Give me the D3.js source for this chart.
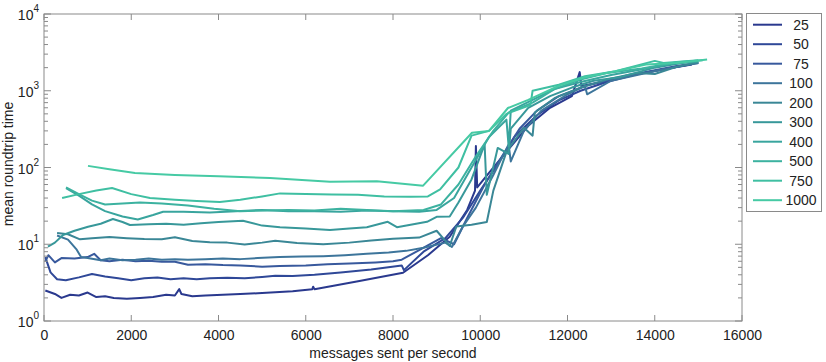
<!DOCTYPE html>
<html><head><meta charset="utf-8">
<script src="https://cdn.jsdelivr.net/npm/d3@7/dist/d3.min.js"></script>
<style>body{margin:0;background:#fff}svg text{font-family:"Liberation Sans",Arial,Helvetica,sans-serif;fill:#222}</style>
</head><body><svg id="c" width="826" height="362"></svg>
<script>
const seriesNames = ["25","50","75","100","200","300","400","500","750","1000"];
const xTicks = [0,2000,4000,6000,8000,10000,12000,14000,16000];
const yTickExp = [0,1,2,3,4];

const s25 = [[30,2.5],[250,2.25],[400,2.0],[600,2.2],[800,2.15],[1000,2.35],[1200,2.05],[1400,2.1],[1600,2.0],[1900,1.95],[2200,2.0],[2500,2.05],[2800,2.2],[3000,2.15],[3100,2.6],[3150,2.25],[3400,2.1],[3700,2.15],[4100,2.2],[4500,2.25],[4900,2.3],[5200,2.35],[5700,2.45],[6150,2.6],[6170,2.8],[6200,2.6],[7200,3.3],[8230,4.25],[8800,7.2],[9300,12.5],[9700,28],[9880,50],[9900,190],[9930,55],[10200,85],[10600,160],[11100,350],[11600,600],[12100,850],[12280,1750],[12320,1150],[12800,1300],[13500,1600],[14200,1900],[14850,2200]];
const s50 = [[30,6.8],[150,4.3],[300,3.5],[500,3.4],[800,3.7],[1100,4.1],[1400,3.8],[1700,3.6],[2000,3.4],[2300,3.6],[2600,3.7],[2900,3.5],[3200,3.6],[3500,3.5],[3800,3.6],[4200,3.65],[4600,3.6],[5000,3.75],[5300,3.9],[5700,3.85],[6200,4.0],[6800,4.3],[7500,4.7],[8200,5.3],[8250,4.6],[8700,8.0],[9200,12.0],[9600,22],[10000,50],[10400,110],[10800,260],[11300,480],[11800,750],[12300,1000],[12900,1300],[13600,1650],[14300,1950],[14900,2250]];
const s75 = [[30,6.0],[100,7.2],[250,5.8],[400,6.6],[700,6.5],[1000,6.8],[1150,7.5],[1300,6.2],[1500,6.0],[1800,6.3],[2100,6.0],[2400,6.1],[2700,5.9],[3000,5.9],[3300,5.4],[3700,5.5],[4100,5.35],[4500,5.3],[5000,5.1],[5400,5.2],[6000,5.3],[6500,5.5],[7000,5.6],[7600,5.8],[8000,6.0],[8200,6.3],[8600,8.4],[9100,12],[9400,10],[9700,22],[10100,60],[10500,140],[10900,320],[11300,550],[11800,850],[12400,1150],[13100,1450],[13800,1750],[14500,2100],[15000,2300]];
const s100 = [[300,13],[550,11.5],[750,8.5],[850,6.8],[1000,6.6],[1300,6.2],[1500,6.5],[1800,6.2],[2100,6.3],[2400,6.5],[2700,6.3],[3000,6.4],[3300,6.3],[3700,6.4],[4100,6.5],[4500,6.4],[4900,6.6],[5400,6.8],[5900,6.9],[6400,7.0],[6900,7.2],[7400,7.5],[7900,7.8],[8300,8.2],[8700,9.0],[9200,10.5],[9350,9.2],[9600,17],[9900,30],[10300,80],[10650,200],[10700,120],[11000,300],[11400,550],[12000,900],[12400,1150],[12450,900],[13000,1350],[13800,1700],[14600,2100],[15000,2300]];
const s200 = [[300,14],[550,13.5],[825,11.6],[1100,12.0],[1500,12.4],[1900,12.0],[2300,11.7],[2700,11.6],[3000,12.3],[3400,11.0],[3800,10.6],[4200,10.5],[4600,9.9],[5000,10.5],[5300,11.1],[5800,10.4],[6400,10.0],[7000,10.5],[7500,11.2],[8000,11.8],[8600,12.2],[9000,15],[9300,9.5],[9450,17],[9800,18],[10150,19.5],[10300,50],[10600,160],[11000,330],[11200,260],[11250,520],[11700,800],[12300,1100],[13000,1450],[13600,1700],[14000,1650],[14500,2050],[15000,2350]];
const s300 = [[90,9.3],[250,10.5],[435,13.2],[700,15.0],[1010,16.9],[1300,18.5],[1580,21.3],[1800,19.5],[1970,17.8],[2400,18.2],[2800,18.5],[3200,18.0],[3600,18.8],[4000,19.5],[4560,20.2],[5000,17.5],[5410,16.6],[6000,16.0],[6555,15.3],[7000,16.0],[7400,16.7],[7880,19.6],[8090,16.7],[8780,19.6],[9000,22.8],[9300,23],[9500,35],[9800,70],[10100,200],[10150,44],[10400,180],[10650,150],[10700,320],[11100,600],[11600,850],[12100,1100],[12600,1350],[13200,1500],[14000,2000],[14800,2400]];
const s400 = [[505,54],[800,43],[1100,33],[1400,27],[1800,23],[2150,21],[2500,24],[2730,26.5],[3200,26.5],[3800,26],[4400,27],[5000,28],[5600,27],[6200,27],[6800,26.5],[7400,27.5],[8000,27],[8600,26.5],[9000,28],[9400,40],[9800,100],[10200,250],[10600,420],[10650,190],[10700,550],[11200,760],[11700,1050],[12300,1300],[13000,1600],[13900,2000],[14400,2250],[15000,2400]];
const s500 = [[505,55],[800,45],[1100,37],[1400,33],[1800,34],[2200,35],[2700,34],[3300,32],[3900,29],[4500,27],[5000,27.5],[5600,28],[6200,27.5],[6800,29],[7400,28],[8000,27],[8700,28],[9100,33],[9500,60],[9900,140],[10300,300],[10650,520],[11200,700],[11700,1050],[12300,1400],[12900,1700],[13700,1950],[14500,2350],[15100,2500]];
const s750 = [[415,40],[800,45],[1200,50],[1560,54],[2000,45],[2430,40],[3000,38],[3500,36.5],[4030,35.5],[4500,38],[5000,42],[5410,46],[6000,45],[6600,44.5],[7200,44],[7800,42],[8400,41.5],[8800,42],[9080,52],[9500,100],[9800,260],[10200,300],[10600,500],[11150,650],[11200,1000],[11800,1200],[12400,1550],[13100,1800],[14000,2450],[14200,2300],[15000,2500]];
const s1000 = [[1008,105],[1500,95],[2085,85],[3000,80],[4000,77],[5180,73],[6555,65],[7630,66],[8690,58],[9810,284],[10200,300],[10635,596],[11100,760],[11830,1180],[12400,1500],[13100,1800],[13800,2200],[14500,2300],[15200,2550]];
const seriesData = [s25,s50,s75,s100,s200,s300,s400,s500,s750,s1000];
const colors = ["#2a398e","#2f4898","#38599d","#3d759b","#3a8796","#38989a","#39a59e","#3cb2a0","#3fbfa2","#46caa4"];

const svg = d3.select("#c");
const L=44,R=742,T=14,B=321;
const x = d3.scaleLinear().domain([0,16000]).range([L,R]);
const y = d3.scaleLog().domain([1,1e4]).range([B,T]);
const axisCol="#8a8a8a";

// lines
const line = d3.line().x(d=>x(d[0])).y(d=>y(d[1]));
const g = svg.append("g");
seriesData.forEach((s,i)=>{
  g.append("path").attr("d",line(s)).attr("fill","none").attr("stroke",colors[i]).attr("stroke-width",2).attr("stroke-linejoin","round");
});

// frame
svg.append("rect").attr("x",L).attr("y",T).attr("width",R-L).attr("height",B-T).attr("fill","none").attr("stroke",axisCol).attr("stroke-width",1);

// x ticks
const xa = d3.axisBottom(x).tickValues(xTicks).tickSize(0).tickPadding(9).tickFormat(d3.format("d"));
const xg = svg.append("g").attr("transform",`translate(0,${B})`).call(xa);
xg.select(".domain").remove();
xg.selectAll("text").attr("font-size",14).attr("fill","#222").style("font-family","'Liberation Sans',Arial,sans-serif");
xTicks.forEach(t=>{
  svg.append("line").attr("x1",x(t)).attr("x2",x(t)).attr("y1",B).attr("y2",B-6).attr("stroke",axisCol);
  svg.append("line").attr("x1",x(t)).attr("x2",x(t)).attr("y1",T).attr("y2",T+6).attr("stroke",axisCol);
});
// y ticks
const minor = [];
for(let e=0;e<4;e++) for(let k=2;k<10;k++) minor.push(k*Math.pow(10,e));
minor.forEach(v=>{
  svg.append("line").attr("x1",L).attr("x2",L+4).attr("y1",y(v)).attr("y2",y(v)).attr("stroke",axisCol);
  svg.append("line").attr("x1",R).attr("x2",R-4).attr("y1",y(v)).attr("y2",y(v)).attr("stroke",axisCol);
});
yTickExp.forEach(e=>{
  const v=Math.pow(10,e);
  svg.append("line").attr("x1",L).attr("x2",L+7).attr("y1",y(v)).attr("y2",y(v)).attr("stroke",axisCol);
  svg.append("line").attr("x1",R).attr("x2",R-7).attr("y1",y(v)).attr("y2",y(v)).attr("stroke",axisCol);
  const t = svg.append("text").attr("x",39).attr("y",y(v)+6).attr("text-anchor","end").attr("font-size",14);
  t.append("tspan").text("10");
  t.append("tspan").attr("dy",-8).attr("font-size",10).text(String(e));
});

// axis titles
svg.append("text").attr("x",(L+R)/2).attr("y",358).attr("text-anchor","middle").attr("font-size",14).text("messages sent per second");
svg.append("text").attr("transform",`translate(13,${164}) rotate(-90)`).attr("text-anchor","middle").attr("font-size",14).text("mean roundtrip time");

// legend
const lg = svg.append("g");
lg.append("rect").attr("x",746.5).attr("y",13.5).attr("width",75).attr("height",198).attr("fill","#fff").attr("stroke",axisCol);
seriesNames.forEach((n,i)=>{
  const yy = 24.7 + i*19.5;
  lg.append("line").attr("x1",753).attr("x2",782).attr("y1",yy).attr("y2",yy).attr("stroke",colors[i]).attr("stroke-width",2);
  lg.append("text").attr("x",801).attr("y",yy+5).attr("text-anchor","middle").attr("font-size",14).text(n);
});
</script></body></html>
